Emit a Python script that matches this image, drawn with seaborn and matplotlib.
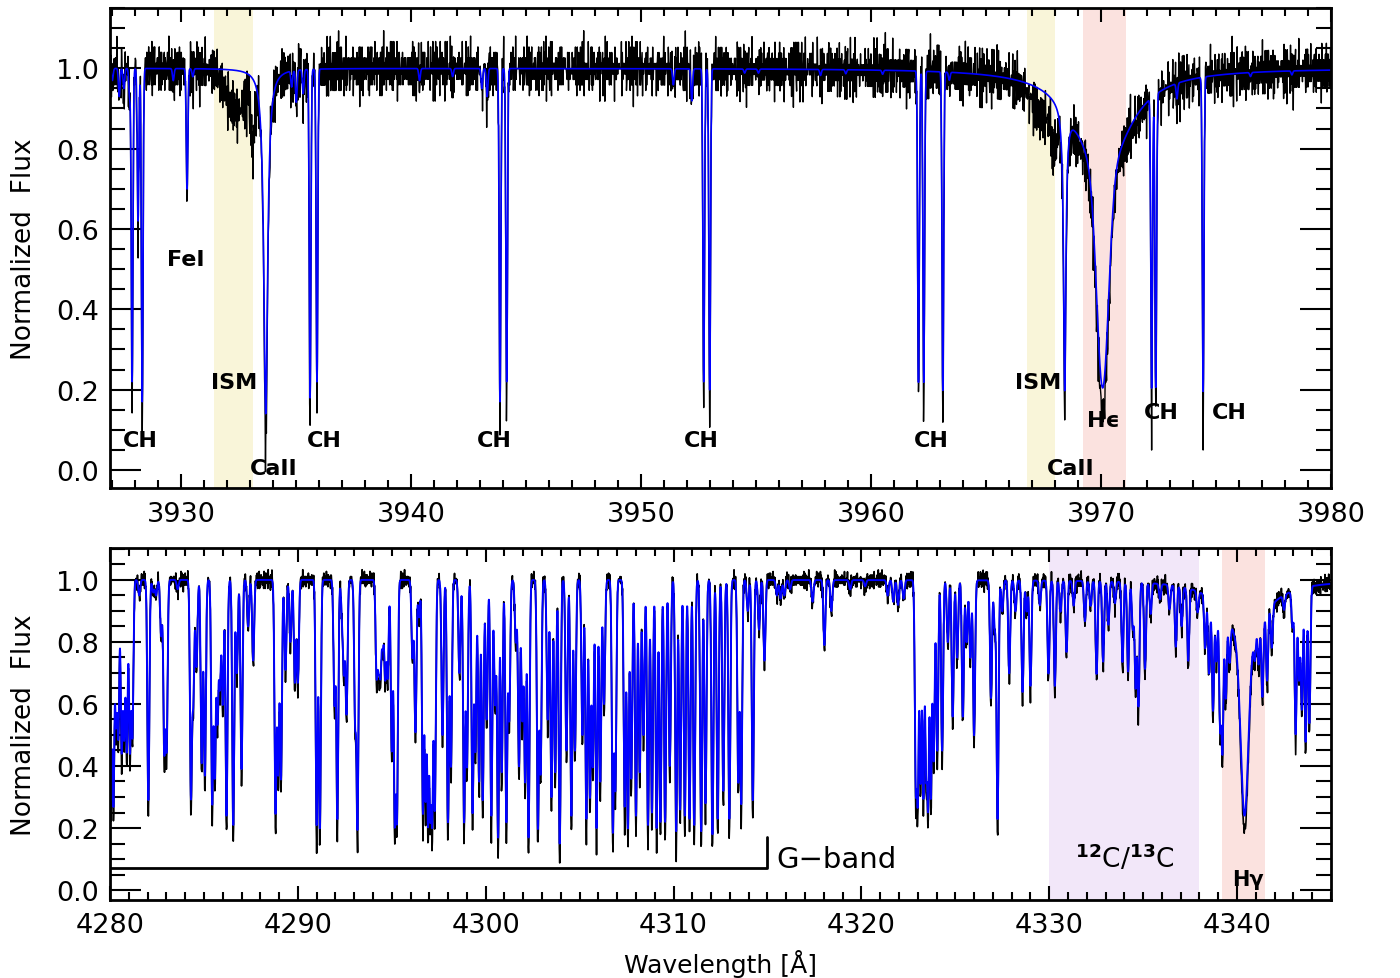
import numpy as np
import matplotlib
matplotlib.use('Agg')
import matplotlib.pyplot as plt
import seaborn as sns
from matplotlib.ticker import MultipleLocator

# ---- data ----
# top panel: narrow lines (centre [A], flux at line minimum of the model)
top_centers = [3927.0, 3927.3, 3927.5, 3927.75, 3927.86, 3928.12, 3928.3, 3929.65,
               3930.25, 3930.5, 3934.8, 3935.0, 3935.3, 3935.6, 3935.9, 3940.36,
               3941.8, 3943.07, 3943.3, 3943.86, 3944.15, 3951.4, 3952.2, 3952.72,
               3952.98, 3954.5, 3955.1, 3957.8, 3958.9, 3960.5, 3962.06, 3962.29,
               3963.12, 3963.4, 3972.2, 3972.38, 3973.3, 3974.44, 3976.5, 3978.3]
top_minflux = [0.97, 0.93, 0.95, 0.93, 0.22, 0.62, 0.17, 0.97,
               0.70, 0.98, 0.96, 0.92, 0.94, 0.18, 0.22, 0.97,
               0.98, 0.95, 0.93, 0.17, 0.22, 0.96, 0.92, 0.22,
               0.20, 0.99, 0.99, 0.985, 0.99, 0.99, 0.22, 0.22,
               0.20, 0.98, 0.22, 0.22, 0.96, 0.20, 0.99, 0.99]
# top panel: broad lines (Ca II K, Ca II H, H-epsilon)
top_lor_center = [3933.67, 3968.42, 3970.07]
top_lor_depth = [0.86, 0.78, 0.27]
top_lor_width = [0.10, 0.06, 1.3]
top_core_center = [3970.07]
top_core_depth = [0.72]
top_core_width = [0.25]
# interstellar absorption, only in the observed spectrum
ism_center = [3932.4, 3933.1, 3967.5, 3967.95]
ism_depth = [0.10, 0.15, 0.06, 0.10]
ism_width = [0.45, 0.08, 0.5, 0.10]

# bottom panel: narrow lines (G-band region and beyond)
bot_centers = [4280.05, 4280.18, 4280.32, 4280.44, 4280.62, 4280.75, 4280.89, 4281.06, 4281.19,
               4281.55, 4282.04, 4282.3, 4282.45, 4282.72, 4282.89, 4283.01, 4283.6,
               4284.31, 4284.43, 4284.6, 4284.88, 4285.05, 4285.44, 4285.58, 4285.72,
               4285.85, 4286.0, 4286.2, 4286.56, 4286.75, 4287.0, 4287.35, 4287.62,
               4288.81, 4288.95, 4289.1, 4289.34, 4289.6, 4289.84, 4290.0, 4291.0,
               4291.17, 4291.95, 4292.1, 4292.35, 4292.45, 4292.59, 4293.05, 4293.17,
               4294.19, 4294.3, 4294.4, 4294.52, 4294.65, 4294.78, 4295.0, 4295.16,
               4295.27, 4296.1, 4296.26, 4296.45, 4296.66, 4296.8, 4296.93, 4297.05,
               4297.15, 4297.29, 4297.7, 4297.99, 4298.15, 4298.6, 4298.85, 4299.0,
               4299.3, 4299.45, 4299.65, 4299.84, 4300.05, 4300.3, 4300.5, 4300.66,
               4300.85, 4301.1, 4301.25, 4301.6, 4301.77, 4301.95, 4302.1, 4302.28,
               4302.78, 4302.92, 4303.3, 4303.5, 4303.7, 4303.94, 4304.3, 4304.56,
               4304.75, 4305.15, 4305.36, 4305.55, 4305.7, 4305.9, 4306.1, 4306.3,
               4306.77, 4306.9, 4307.4, 4307.57, 4307.75, 4308.0, 4308.2, 4308.4,
               4308.64, 4308.85, 4309.1, 4309.3, 4309.55, 4309.8, 4310.14, 4310.35,
               4310.6, 4310.85, 4311.1, 4311.47, 4311.7, 4312.07, 4312.35, 4312.65,
               4312.97, 4313.45, 4313.6, 4313.95, 4314.22, 4314.55, 4314.84, 4315.5,
               4315.7, 4315.9, 4316.2, 4317.4, 4318.03, 4318.4, 4319.4, 4320.2,
               4321.4, 4321.7, 4321.95, 4322.25, 4322.9, 4323.0, 4323.15, 4323.3,
               4323.45, 4323.55, 4323.7, 4323.85, 4324.04, 4324.3, 4324.6, 4324.86,
               4325.1, 4325.4, 4325.6, 4325.8, 4326.0, 4326.9, 4327.1, 4327.25,
               4327.5, 4327.87, 4328.2, 4328.58, 4328.8, 4329.0, 4329.5, 4329.96,
               4330.3, 4330.6, 4330.92, 4331.3, 4331.9, 4332.2, 4332.52, 4332.87,
               4333.15, 4333.5, 4333.9, 4334.2, 4334.45, 4334.6, 4334.75, 4335.1,
               4335.4, 4335.9, 4336.4, 4336.74, 4337.05, 4337.4, 4337.9, 4338.3,
               4338.51, 4338.72, 4338.9, 4339.1, 4339.22, 4339.4, 4339.6, 4340.95,
               4341.15, 4341.35, 4341.6, 4341.85, 4342.5, 4342.95, 4343.12, 4343.3,
               4343.45, 4343.65, 4343.85]
bot_minflux = [0.30, 0.28, 0.55, 0.50, 0.45, 0.50, 0.45, 0.45, 0.50,
               0.95, 0.29, 0.96, 0.95, 0.82, 0.45, 0.46, 0.97,
               0.30, 0.62, 0.72, 0.41, 0.37, 0.28, 0.37, 0.55,
               0.66, 0.60, 0.24, 0.21, 0.70, 0.39, 0.85, 0.74,
               0.25, 0.38, 0.36, 0.71, 0.80, 0.67, 0.67, 0.21,
               0.20, 0.60, 0.23, 0.90, 0.71, 0.57, 0.55, 0.20,
               0.70, 0.75, 0.72, 0.80, 0.69, 0.69, 0.45, 0.22,
               0.23, 0.75, 0.51, 0.88, 0.25, 0.30, 0.22, 0.26,
               0.23, 0.26, 0.50, 0.22, 0.40, 0.70, 0.22, 0.40,
               0.25, 0.45, 0.35, 0.29, 0.55, 0.24, 0.60, 0.17,
               0.38, 0.22, 0.55, 0.80, 0.40, 0.55, 0.35, 0.17,
               0.20, 0.38, 0.55, 0.30, 0.38, 0.15, 0.45, 0.24,
               0.45, 0.50, 0.23, 0.30, 0.40, 0.20, 0.35, 0.60,
               0.19, 0.33, 0.27, 0.20, 0.36, 0.24, 0.38, 0.50,
               0.21, 0.25, 0.20, 0.22, 0.22, 0.40, 0.19, 0.26,
               0.24, 0.23, 0.21, 0.19, 0.28, 0.18, 0.23, 0.32,
               0.23, 0.35, 0.28, 0.90, 0.29, 0.84, 0.74, 0.95,
               0.94, 0.95, 0.97, 0.93, 0.79, 0.90, 0.97, 0.98,
               0.95, 0.93, 0.92, 0.94, 0.34, 0.30, 0.35, 0.30,
               0.40, 0.28, 0.30, 0.42, 0.45, 0.45, 0.80, 0.56,
               0.75, 0.56, 0.80, 0.75, 0.50, 0.62, 0.85, 0.23,
               0.90, 0.70, 0.90, 0.64, 0.90, 0.66, 0.92, 0.70,
               0.66, 0.90, 0.77, 0.92, 0.87, 0.92, 0.70, 0.74,
               0.86, 0.93, 0.74, 0.71, 0.85, 0.66, 0.60, 0.72,
               0.90, 0.95, 0.92, 0.80, 0.87, 0.76, 0.93, 0.82,
               0.74, 0.62, 0.80, 0.58, 0.50, 0.70, 0.85, 0.90,
               0.85, 0.71, 0.75, 0.85, 0.95, 0.88, 0.52, 0.70,
               0.60, 0.49, 0.55]
# bottom panel: H-gamma
bot_lor_center = [4340.4]
bot_lor_depth = [0.2]
bot_lor_width = [1.2]
bot_core_center = [4340.4]
bot_core_depth = [0.7]
bot_core_width = [0.2]

# residual pattern of the observed spectrum (units of 0.01)
noise_a = [2, -1, 3, -2, 0, 4, -3, 1, -1, 2, -4, 3, 0, -2, 1, 3, -1, -3, 2, 0, -2,
           4, -1, 1, -3, 2, 0, -1, 3, -2, 1, -4, 2, 1, -1, 0, 3, -2, -1, 2, -3]
noise_b = [-1, 2, 0, -2, 3, -1, 1, -3, 2, 0, 1, -2, 2, -1, -1, 3, -2, 0, 1, -1, 2,
           -3, 1, 0, -2, 2, 1, -1, -2]

top_shade = [(3931.4, 3933.1, '#f9f5d9'), (3966.8, 3968.0, '#f9f5d9'),
             (3969.2, 3971.1, '#fbe2df')]
bot_shade = [(4330.0, 4338.0, '#f2e7f9'), (4339.2, 4341.5, '#fbe2df')]

top_labels = [('CH', 3928.2, 0.075), ('FeI', 3930.2, 0.525), ('ISM', 3932.3, 0.22),
              ('CaII', 3934.0, 0.005), ('CH', 3936.2, 0.075), ('CH', 3943.6, 0.075),
              ('CH', 3952.6, 0.075), ('CH', 3962.6, 0.075), ('ISM', 3967.25, 0.22),
              ('CaII', 3968.7, 0.005), ('H\u03f5', 3970.1, 0.125), ('CH', 3972.6, 0.145),
              ('CH', 3975.6, 0.145)]


def spectrum(wave, centers, minflux, width, lc, ld, lw, gc, gd, gw, scale=1.0):
    flux = np.ones_like(wave)
    for c, f in zip(centers, minflux):
        d = min((1 - f) * scale, 0.97)
        flux *= 1 - d * np.exp(-0.5 * ((wave - c) / width) ** 2)
    for c, d, w in zip(lc, ld, lw):
        flux *= 1 - min(d * scale, 0.97) / (1 + ((wave - c) / w) ** 2)
    for c, d, w in zip(gc, gd, gw):
        flux *= 1 - min(d * scale, 0.97) * np.exp(-0.5 * ((wave - c) / w) ** 2)
    return flux


def residuals(n, amp):
    a = np.resize(np.array(noise_a, float), n)
    b = np.resize(np.array(noise_b, float), n)
    return (a + b) * 0.01 * amp


sns.set_style('ticks')
plt.rcParams['font.family'] = ['DejaVu Sans']
plt.rcParams.update({'text.color': 'black', 'axes.labelcolor': 'black',
                     'xtick.color': 'black', 'ytick.color': 'black',
                     'axes.edgecolor': 'black', 'axes.linewidth': 2})

fig = plt.figure(figsize=(14, 9.79), dpi=100)
ax1 = fig.add_axes([0.0786, 0.5005, 0.8721, 0.4903])
ax2 = fig.add_axes([0.0786, 0.0797, 0.8721, 0.3596])

# top panel
wm = np.arange(3926.9, 3980.0, 0.01)
wo = np.arange(3926.9, 3980.0, 0.02)
model = spectrum(wm, top_centers, top_minflux, 0.035, top_lor_center, top_lor_depth,
                 top_lor_width, top_core_center, top_core_depth, top_core_width)
obs = spectrum(wo, top_centers, top_minflux, 0.035,
               top_lor_center, top_lor_depth, top_lor_width,
               top_core_center, top_core_depth, top_core_width, scale=1.1)
for c, d, w in zip(ism_center, ism_depth, ism_width):
    obs *= 1 - d * np.exp(-0.5 * ((wo - c) / w) ** 2)
obs = obs + residuals(len(wo), 1.35)

for lo, hi, col in top_shade:
    ax1.axvspan(lo, hi, color=col, lw=0, zorder=0)
sns.lineplot(x=wo, y=obs, ax=ax1, color='black', lw=1.0, estimator=None, sort=False)
sns.lineplot(x=wm, y=model, ax=ax1, color='#0000ff', lw=1.2, estimator=None, sort=False)
for txt, x, y in top_labels:
    ax1.text(x, y, txt, ha='center', va='center', fontsize=16, fontweight='bold')
ax1.set_xlim(3926.9, 3980.0)
ax1.set_ylim(-0.045, 1.15)
ax1.xaxis.set_major_locator(MultipleLocator(10))
ax1.xaxis.set_minor_locator(MultipleLocator(1))

# bottom panel
wm2 = np.arange(4280.0, 4345.0, 0.01)
wo2 = np.arange(4280.0, 4345.0, 0.02)
model2 = spectrum(wm2, bot_centers, bot_minflux, 0.052, bot_lor_center, bot_lor_depth,
                  bot_lor_width, bot_core_center, bot_core_depth, bot_core_width)
obs2 = spectrum(wo2, bot_centers, bot_minflux, 0.052, bot_lor_center, bot_lor_depth,
                bot_lor_width, bot_core_center, bot_core_depth, bot_core_width, scale=1.08)
obs2 = obs2 + residuals(len(wo2), 0.55)

for lo, hi, col in bot_shade:
    ax2.axvspan(lo, hi, color=col, lw=0, zorder=0)
sns.lineplot(x=wo2, y=obs2, ax=ax2, color='black', lw=1.2, estimator=None, sort=False)
sns.lineplot(x=wm2, y=model2, ax=ax2, color='#0000ff', lw=1.4, estimator=None, sort=False)
ax2.plot([4280, 4315, 4315], [0.072, 0.072, 0.17], color='black', lw=2)
ax2.text(4315.5, 0.1, 'G\u2212band', ha='left', va='center', fontsize=21)
ax2.text(4334.05, 0.105, r'$^{\mathbf{12}}$C/$^{\mathbf{13}}$C', ha='center', va='center', fontsize=19)
ax2.text(4340.6, 0.035, 'H\u03b3', ha='center', va='center', fontsize=15, fontweight='bold')
ax2.set_xlim(4280.0, 4345.0)
ax2.set_ylim(-0.032, 1.103)
ax2.xaxis.set_major_locator(MultipleLocator(10))
ax2.xaxis.set_minor_locator(MultipleLocator(1))
ax2.set_xlabel('Wavelength [\u00c5]', fontsize=18)
ax2.xaxis.set_label_coords(0.5, -0.14)

for ax in (ax1, ax2):
    ax.yaxis.set_major_locator(MultipleLocator(0.2))
    ax.yaxis.set_minor_locator(MultipleLocator(0.05))
    ax.set_ylabel('Normalized  Flux', fontsize=19)
    ax.yaxis.set_label_coords(-0.06, 0.5)
    ax.tick_params(which='both', direction='in', top=True, right=True, labelsize=19.5, width=1.5)
    ax.tick_params(axis='y', which='major', length=22, pad=8)
    ax.tick_params(axis='y', which='minor', length=11)
    ax.tick_params(axis='x', which='major', length=10, pad=9)
    ax.tick_params(axis='x', which='minor', length=6)
    ax.yaxis.set_major_formatter(matplotlib.ticker.FormatStrFormatter('%.1f'))
    for s in ax.spines.values():
        s.set_linewidth(2)

fig.savefig('out.png', dpi=100)
